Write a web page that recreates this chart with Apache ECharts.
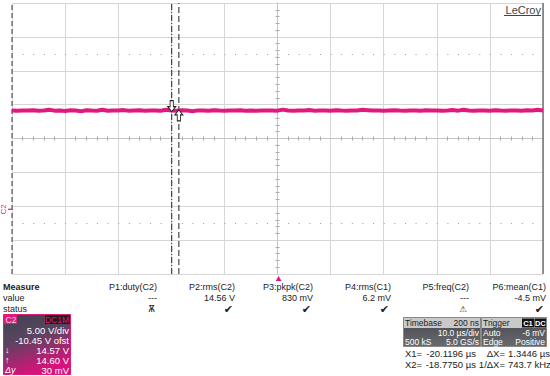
<!DOCTYPE html>
<html><head><meta charset="utf-8">
<script src="https://cdn.jsdelivr.net/npm/echarts@6/dist/echarts.min.js"></script>
<style>html,body{margin:0;padding:0;background:#fff}#c{width:550px;height:376px}</style>
</head><body><div id="c"></div>
<script>
// ---- data ----
const timeStart = -50.2;      // µs, left edge of record
const sampleStep = 1;         // µs between samples
const timeEnd = 49.8;
const voltsPerDiv = 5.00;
const offsetV = -10.45;
const traceC2 = [
14.58,14.55,14.60,14.57,14.62,14.54,14.59,14.70,14.56,14.58,
14.52,14.61,14.57,14.46,14.63,14.58,14.56,14.69,14.54,14.59,
14.57,14.64,14.55,14.58,14.61,14.53,14.57,14.60,14.56,14.68,
14.58,14.55,14.62,14.57,14.47,14.60,14.58,14.56,14.63,14.57,
14.55,14.59,14.57,14.61,14.56,14.58,14.54,14.60,14.57,14.59,
14.56,14.71,14.58,14.55,14.60,14.57,14.65,14.56,14.59,14.58,
14.54,14.61,14.57,14.55,14.60,14.58,14.68,14.63,14.57,14.59,
14.55,14.58,14.61,14.57,14.54,14.60,14.58,14.56,14.62,14.57,
14.59,14.55,14.58,14.64,14.56,14.70,14.57,14.53,14.59,14.58,
14.56,14.61,14.57,14.55,14.60,14.58,14.56,14.62,14.57,14.69,14.58];
const cursorX = [-20.1196, -18.7750];
const cursorY = [14.57, 14.60];
const triggerTime = 0;
const dottedLevels = [2.5, -2.5];   // divisions
const measureNames = ['P1:duty(C2)','P2:rms(C2)','P3:pkpk(C2)','P4:rms(C1)','P5:freq(C2)','P6:mean(C1)'];
const measureValues = ['---','14.56 V','830 mV','6.2 mV','---','-4.5 mV'];
const measureStatus = ['Ѫ','✔','✔','✔','⚠','✔'];
const measureRows = ['Measure','value','status'];
const c2Lines = ['5.00 V/div','-10.45 V ofst','14.57 V','14.60 V','30 mV'];
const c2Prefix = ['','','↓','↑','Δy'];
const timebaseInfo = ['Timebase','200 ns','10.0 µs/div','500 kS','5.0 GS/s'];
const triggerInfo = ['Trigger','C1','DC','Auto','-6 mV','Edge','Positive'];
const cursorText = [['X1=','-20.1196 µs','ΔX=','1.3446 µs'],['X2=','-18.7750 µs','1/ΔX=','743.7 kHz']];

// ---- chart ----
const PINK = '#e0197d';
const GRIDC = '#d6d6d6';
const centerV = -offsetV;
const vMin = centerV - 4*voltsPerDiv, vMax = centerV + 4*voltsPerDiv;
const traceData = traceC2.map((v,i)=>[timeStart + i*sampleStep, v]);

const chart = echarts.init(document.getElementById('c'), null, {renderer:'svg'});
const font = 'Liberation Sans, Arial, sans-serif';

function divAxis(extra){
  return Object.assign({
    type:'value', min:-5, max:5, interval:1,
    axisLabel:{show:false}, axisTick:{show:false},
    axisLine:{show:true, onZero:true, onZeroAxisIndex:0, lineStyle:{color:'#c4c4c4', width:1}},
    minorTick:{show:true, splitNumber:5, length:2, lineStyle:{color:'#aaa'}},
    splitLine:{show:false}
  }, extra||{});
}
function vlineSeries(x, style){
  return {type:'line', xAxisIndex:2, yAxisIndex:2, data:[[x, vMin],[x, vMax]], symbol:'none', silent:true, clip:true,
          lineStyle:style, z:3};
}

const graphic = [];
const txt = (x,y,t,o)=>graphic.push({type:'text', x:x, y:y, style:Object.assign({text:t, font:'9px '+font, fill:'#222', verticalAlign:'middle'}, o||{})});
// measure table
const rowY = [287, 298, 309];
measureRows.forEach((t,i)=>txt(3, rowY[i], t, {font:(i===0?'bold ':'')+'9px '+font}));
const colRight = [157, 235, 313, 391, 469, 546];
measureNames.forEach((n,i)=>{
  txt(colRight[i], rowY[0], n, {align:'right'});
  txt(colRight[i], rowY[1], measureValues[i], {align:'right'});
  txt(colRight[i]-2, rowY[2], measureStatus[i], {align:'right', font:(measureStatus[i]==='✔'?'11px':'8.5px')+' DejaVu Sans'});
});
// C2 box
graphic.push({type:'rect', shape:{x:3.5,y:314.5,width:67,height:60}, style:{fill:new echarts.graphic.LinearGradient(0,0,0.35,1,[{offset:0,color:'#3e4452'},{offset:0.45,color:'#5a4460'},{offset:1,color:'#d8127a'}]), stroke:PINK, lineWidth:1}});
graphic.push({type:'rect', shape:{x:4,y:315,width:13,height:9}, style:{fill:PINK}});
txt(5.5, 319.5, 'C2', {font:'8.5px '+font, fill:'#ffd6ea'});
graphic.push({type:'rect', shape:{x:45,y:315,width:25,height:9}, style:{fill:'#1c1c1c'}});
txt(69, 319.5, 'DC1M', {font:'8.5px '+font, fill:PINK, align:'right'});
c2Lines.forEach((t,i)=>{
  const y = 330 + i*10;
  txt(69, y, t, {font:'9.5px '+font, fill:'#fff', align:'right'});
  if (c2Prefix[i]) txt(5, y, c2Prefix[i], {font:(i===4?'italic ':'')+'9px '+font, fill:'#fff'});
});
// Timebase / Trigger boxes
const boxGrad = ()=>new echarts.graphic.LinearGradient(0,0,0,1,[{offset:0,color:'#46494e'},{offset:1,color:'#686a6e'}]);
graphic.push({type:'rect', shape:{x:403.5,y:317.5,width:77,height:29}, style:{fill:boxGrad(), stroke:'#888', lineWidth:1}});
graphic.push({type:'rect', shape:{x:404,y:318,width:76,height:10}, style:{fill:'#c9c9c9'}});
const bf = '8.5px '+font;
txt(405, 323, timebaseInfo[0], {font:bf});
txt(479, 323, timebaseInfo[1], {font:bf, align:'right'});
txt(479, 332.6, timebaseInfo[2], {font:bf, fill:'#fff', align:'right'});
txt(405, 341.8, timebaseInfo[3], {font:bf, fill:'#fff'});
txt(479, 341.8, timebaseInfo[4], {font:bf, fill:'#fff', align:'right'});
graphic.push({type:'rect', shape:{x:481.5,y:317.5,width:65,height:29}, style:{fill:boxGrad(), stroke:'#888', lineWidth:1}});
graphic.push({type:'rect', shape:{x:482,y:318,width:64,height:10}, style:{fill:'#c9c9c9'}});
txt(483, 323, triggerInfo[0], {font:bf});
graphic.push({type:'rect', shape:{x:522,y:318.5,width:12,height:9}, style:{fill:'#111'}});
graphic.push({type:'rect', shape:{x:534.5,y:318.5,width:11.5,height:9}, style:{fill:'#111'}});
txt(528, 323, triggerInfo[1], {font:'bold 7.5px '+font, fill:'#fff', align:'center'});
txt(540.3, 323, triggerInfo[2], {font:'bold 7.5px '+font, fill:'#fff', align:'center'});
txt(483, 332.6, triggerInfo[3], {font:bf, fill:'#fff'});
txt(545, 332.6, triggerInfo[4], {font:bf, fill:'#fff', align:'right'});
txt(483, 341.8, triggerInfo[5], {font:bf, fill:'#fff'});
txt(545, 341.8, triggerInfo[6], {font:bf, fill:'#fff', align:'right'});
// cursor readouts
cursorText.forEach((r,i)=>{
  const y = 353 + i*11;
  const f = '9.5px '+font;
  txt(405, y, r[0], {font:f});
  txt(476, y, r[1], {font:f, align:'right'});
  txt(505, y, r[2], {font:f, align:'right'});
  txt(508, y, r[3], {font:f});
});
// LeCroy logo
graphic.push({type:'rect', shape:{x:502,y:3,width:40,height:13}, style:{fill:'#fff'}});
txt(541, 9.5, 'LeCroy', {font:'11px '+font, fill:'#444', align:'right'});
graphic.push({type:'line', shape:{x1:504,y1:15.5,x2:541,y2:15.5}, style:{stroke:'#444', lineWidth:1}});

const option = {
  animation:false,
  backgroundColor:'#fff',
  grid:{left:12, right:7, top:3, bottom:102, show:false},
  xAxis:[
    divAxis({position:'bottom', splitLine:{show:true, lineStyle:{color:GRIDC, width:1}}}),
    divAxis({position:'top'}),
    {type:'value', min:timeStart, max:timeEnd, show:false, axisLine:{onZero:false}}
  ],
  yAxis:[
    divAxis({min:-4, max:4, position:'left', splitLine:{show:true, lineStyle:{color:GRIDC, width:1}}}),
    divAxis({min:-4, max:4, position:'right'}),
    {type:'value', min:vMin, max:vMax, show:false, axisLine:{onZero:false}}
  ],
  series:[
    {
      type:'line', xAxisIndex:0, yAxisIndex:0, data:[], silent:true, clip:false,
      markLine:{silent:true, symbol:'none', label:{show:false},
        data: dottedLevels.map(l=>({yAxis:l, lineStyle:{color:'#9a9a9a', width:1, type:[1, 9.62]}}))
      }
    },
    vlineSeries(timeStart, {color:'#333', width:1, type:[5,3]}),
    vlineSeries(timeEnd, {color:'#555', width:1.2, type:'solid'}),
    vlineSeries(cursorX[0], {color:'#222', width:1, type:[6,2,1,2]}),
    vlineSeries(cursorX[1], {color:'#222', width:1, type:[6,3]}),
    {
      name:'C2', type:'line', xAxisIndex:2, yAxisIndex:2, data:traceData, z:4,
      showSymbol:false, symbol:'none', clip:false, silent:true,
      lineStyle:{color:PINK, width:4}, itemStyle:{color:PINK},
      markPoint:{silent:true, animation:false,
        data:[
          {coord:[cursorX[0], cursorY[0]], symbol:'path://M3,0 L7,0 L7,6 L10,6 L5,11 L0,6 L3,6 Z', symbolSize:[8,11], symbolOffset:[0,-4.5], itemStyle:{color:'#fff', borderColor:'#222', borderWidth:1}, label:{show:false}},
          {coord:[cursorX[1], cursorY[1]], symbol:'path://M5,0 L10,5 L7,5 L7,11 L3,11 L3,5 L0,5 Z', symbolSize:[8,11], symbolOffset:[0,5], itemStyle:{color:'#fff', borderColor:'#222', borderWidth:1}, label:{show:false}},
          {coord:[timeStart, 0], symbol:'rect', symbolSize:[4,1.2], symbolOffset:[-2,0], itemStyle:{color:PINK},
            label:{show:true, formatter:'C2', rotate:90, position:'inside', offset:[0,-7], color:PINK, fontSize:8, fontFamily:font}},
          {coord:[triggerTime, vMin], symbol:'triangle', symbolSize:[6,5], symbolOffset:[0,4.5], itemStyle:{color:PINK}, label:{show:false}}
        ]}
    }
  ],
  graphic: graphic
};
chart.setOption(option);
</script>
</body></html>
